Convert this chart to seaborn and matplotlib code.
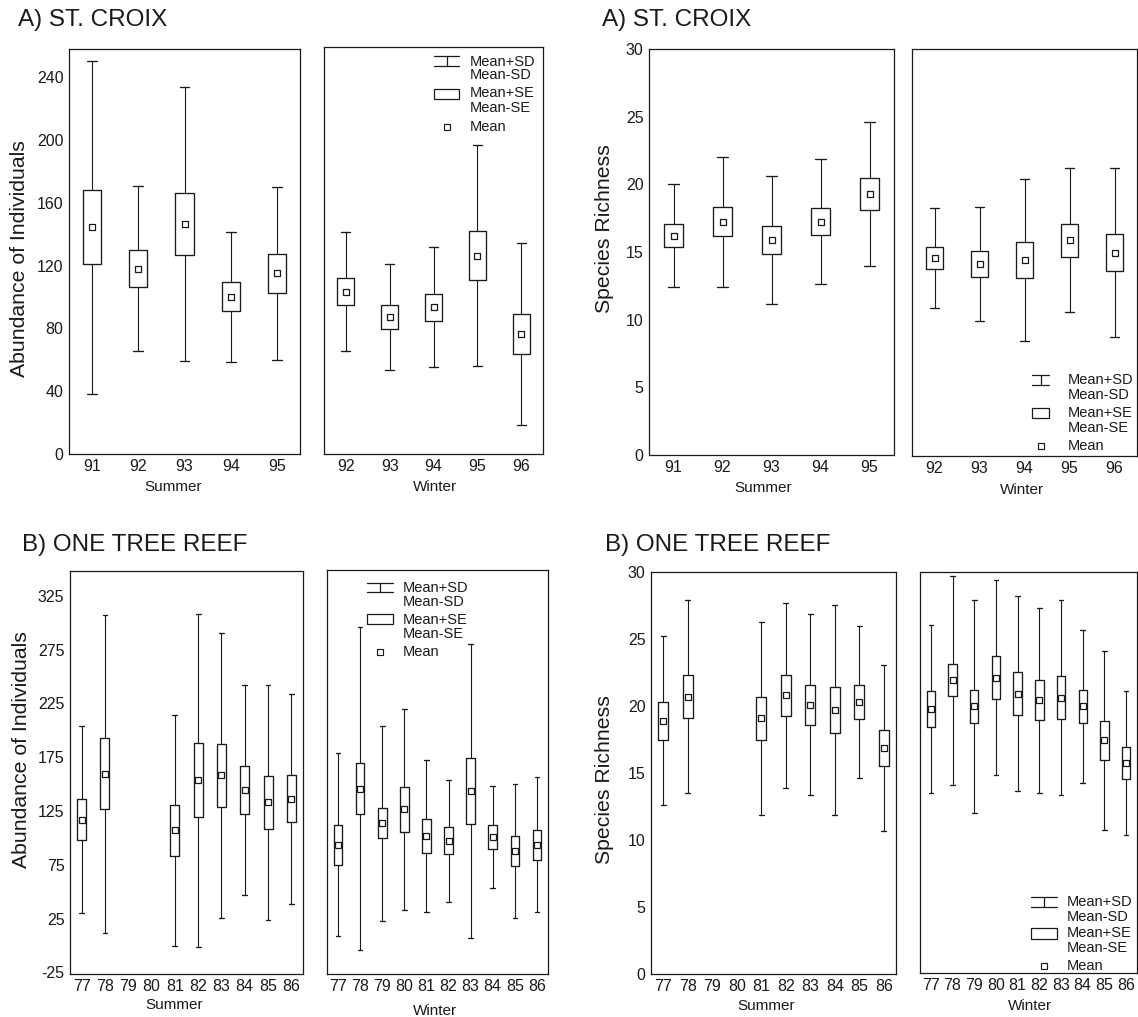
import numpy as np
import pandas as pd
import matplotlib
matplotlib.use("Agg")
import matplotlib.pyplot as plt
from matplotlib.lines import Line2D
from matplotlib.patches import Rectangle
import seaborn as sns

nan = np.nan

# ---- St. Croix ----
sc_summer_years = ["91", "92", "93", "94", "95"]
sc_winter_years = ["92", "93", "94", "95", "96"]

sc_summer_abund_mean = [144.5, 118.0, 146.5, 100.2, 115.0]
sc_summer_abund_se = [23.5, 11.7, 19.5, 9.2, 12.4]
sc_summer_abund_sd = [106.0, 52.7, 87.0, 41.5, 55.0]

sc_winter_abund_mean = [103.0, 86.7, 93.0, 125.7, 76.0]
sc_winter_abund_se = [8.5, 7.5, 8.5, 15.6, 12.7]
sc_winter_abund_sd = [38.0, 33.5, 38.0, 70.0, 57.5]

sc_summer_rich_mean = [16.2, 17.25, 15.9, 17.25, 19.3]
sc_summer_rich_se = [0.85, 1.05, 1.05, 1.0, 1.2]
sc_summer_rich_sd = [3.8, 4.8, 4.75, 4.65, 5.3]

sc_winter_rich_mean = [14.6, 14.15, 14.45, 15.9, 15.0]
sc_winter_rich_se = [0.8, 0.95, 1.35, 1.2, 1.4]
sc_winter_rich_sd = [3.7, 4.2, 5.95, 5.3, 6.2]

# ---- One Tree Reef ----
ot_years = ["77", "78", "79", "80", "81", "82", "83", "84", "85", "86"]

ot_summer_abund_mean = [117.0, 159.5, nan, nan, 107.0, 153.5, 158.0, 144.5, 133.0, 136.5]
ot_summer_abund_se = [19.0, 33.0, nan, nan, 23.5, 34.5, 29.5, 22.0, 24.3, 21.7]
ot_summer_abund_sd = [87.0, 148.0, nan, nan, 107.5, 155.0, 132.7, 98.0, 109.5, 97.5]

ot_winter_abund_mean = [93.3, 145.4, 113.4, 126.0, 101.8, 97.0, 143.0, 100.5, 87.5, 93.3]
ot_winter_abund_se = [18.7, 23.7, 14.0, 20.7, 15.8, 12.5, 30.5, 10.7, 13.6, 13.9]
ot_winter_abund_sd = [85.0, 149.5, 90.4, 93.3, 70.5, 56.7, 136.5, 47.0, 62.0, 62.4]

ot_summer_rich_mean = [18.9, 20.7, nan, nan, 19.1, 20.8, 20.1, 19.7, 20.3, 16.85]
ot_summer_rich_se = [1.4, 1.6, nan, nan, 1.6, 1.55, 1.5, 1.75, 1.27, 1.35]
ot_summer_rich_sd = [6.3, 7.2, nan, nan, 7.2, 6.9, 6.75, 7.85, 5.7, 6.2]

ot_winter_rich_mean = [19.75, 21.9, 19.95, 22.1, 20.9, 20.4, 20.6, 19.95, 17.4, 15.7]
ot_winter_rich_se = [1.37, 1.2, 1.25, 1.6, 1.6, 1.5, 1.6, 1.25, 1.45, 1.2]
ot_winter_rich_sd = [6.25, 7.8, 7.95, 7.3, 7.3, 6.9, 7.3, 5.7, 6.7, 5.4]

abund_sc_ticks = [0, 40, 80, 120, 160, 200, 240]
abund_ot_ticks = [-25, 25, 75, 125, 175, 225, 275, 325]
rich_ticks = [0, 5, 10, 15, 20, 25, 30]

sns.set_theme(style="white")
plt.rcParams["font.family"] = ["Liberation Sans", "DejaVu Sans"]
plt.rcParams["axes.unicode_minus"] = False

W, H = 1138, 1017
fig = plt.figure(figsize=(W / 100, H / 100), dpi=100)
INK = "#1a1a1a"


def fx(x):
    return x / W


def fy(y):
    return 1 - y / H


def px_axes(l, t, r, b):
    return fig.add_axes([fx(l), fy(b), (r - l) / W, (b - t) / H])


def draw_panel(ax, years, mean, se, sd, ylim, yticks, show_y, tick_size=11.5):
    df = pd.DataFrame({"year": years, "mean": mean, "se": se, "sd": sd})
    df["pos"] = np.arange(len(df))
    valid = df.dropna()
    stats = [
        dict(med=r.mean, q1=r.mean - r.se, q3=r.mean + r.se,
             whislo=r.mean - r.sd, whishi=r.mean + r.sd, fliers=[])
        for r in valid.itertuples()
    ]
    ax.bxp(stats, positions=valid["pos"].to_numpy(), widths=0.39,
           capwidths=0.21, showfliers=False, manage_ticks=False,
           boxprops=dict(color=INK, linewidth=0.95),
           whiskerprops=dict(color=INK, linewidth=0.8),
           capprops=dict(color=INK, linewidth=0.95),
           medianprops=dict(linewidth=0))
    sns.scatterplot(data=valid, x="pos", y="mean", marker="s", s=15,
                    facecolor="white", edgecolor=INK, linewidth=0.9,
                    ax=ax, zorder=4, legend=False)
    ax.set_xlim(-0.5, len(df) - 0.5)
    ax.set_ylim(*ylim)
    ax.set_xticks(df["pos"])
    ax.set_xticklabels(df["year"])
    ax.set_yticks(yticks)
    ax.set_xlabel("")
    ax.set_ylabel("")
    ax.tick_params(axis="both", length=0, labelsize=tick_size, colors=INK)
    ax.tick_params(axis="x", pad=3.5)
    ax.tick_params(axis="y", pad=4)
    if not show_y:
        ax.set_yticklabels([])
    for s in ax.spines.values():
        s.set_visible(True)
        s.set_color(INK)
        s.set_linewidth(0.9)


def draw_key(x0, x1, bar_top, bar_bot, rect_top, rect_bot, mean_y, text_x,
             sd_y, se_y, fs=10.5):
    xc = (x0 + x1) / 2
    kw = dict(transform=fig.transFigure, color=INK, linewidth=0.9)
    fig.add_artist(Line2D([fx(x0), fx(x1)], [fy(bar_top)] * 2, **kw))
    fig.add_artist(Line2D([fx(x0), fx(x1)], [fy(bar_bot)] * 2, **kw))
    fig.add_artist(Line2D([fx(xc)] * 2, [fy(bar_top), fy(bar_bot)], **kw))
    fig.add_artist(Rectangle((fx(x0), fy(rect_bot)), (x1 - x0) / W,
                             (rect_bot - rect_top) / H, transform=fig.transFigure,
                             facecolor="white", edgecolor=INK, linewidth=0.9))
    fig.add_artist(Line2D([fx(xc)], [fy(mean_y)], transform=fig.transFigure,
                          marker="s", markersize=4, markerfacecolor="white",
                          markeredgecolor=INK, markeredgewidth=0.85, linestyle="none"))
    tk = dict(fontsize=fs, ha="left", va="center", color=INK)
    fig.text(fx(text_x), fy(sd_y[0]), "Mean+SD", **tk)
    fig.text(fx(text_x), fy(sd_y[1]), "Mean-SD", **tk)
    fig.text(fx(text_x), fy(se_y[0]), "Mean+SE", **tk)
    fig.text(fx(text_x), fy(se_y[1]), "Mean-SE", **tk)
    fig.text(fx(text_x), fy(mean_y), "Mean", **tk)


def label(x, y, s, size, rot=0, ha="center"):
    fig.text(fx(x), fy(y), s, fontsize=size, rotation=rot, ha=ha,
             va="center", color=INK)


# ---- A) St. Croix : abundance ----
ax1 = px_axes(69, 49, 300, 454)
draw_panel(ax1, sc_summer_years, sc_summer_abund_mean, sc_summer_abund_se,
           sc_summer_abund_sd, (0, 258), abund_sc_ticks, True)
ax2 = px_axes(324, 47, 543, 454)
draw_panel(ax2, sc_winter_years, sc_winter_abund_mean, sc_winter_abund_se,
           sc_winter_abund_sd, (0, 258), abund_sc_ticks, False)

# ---- A) St. Croix : species richness ----
ax3 = px_axes(649, 49, 894, 455)
draw_panel(ax3, sc_summer_years, sc_summer_rich_mean, sc_summer_rich_se,
           sc_summer_rich_sd, (0, 30), rich_ticks, True)
ax4 = px_axes(912, 49, 1137, 456)
draw_panel(ax4, sc_winter_years, sc_winter_rich_mean, sc_winter_rich_se,
           sc_winter_rich_sd, (0, 30), rich_ticks, False)

# ---- B) One Tree Reef : abundance ----
ax5 = px_axes(70, 571, 303, 974)
draw_panel(ax5, ot_years, ot_summer_abund_mean, ot_summer_abund_se,
           ot_summer_abund_sd, (-26.5, 348), abund_ot_ticks, True)
ax6 = px_axes(327, 570, 548, 974)
draw_panel(ax6, ot_years, ot_winter_abund_mean, ot_winter_abund_se,
           ot_winter_abund_sd, (-26.5, 348), abund_ot_ticks, False)

# ---- B) One Tree Reef : species richness ----
ax7 = px_axes(651, 572, 896, 974)
draw_panel(ax7, ot_years, ot_summer_rich_mean, ot_summer_rich_se,
           ot_summer_rich_sd, (0, 30), rich_ticks, True)
ax8 = px_axes(920, 572, 1137, 973)
draw_panel(ax8, ot_years, ot_winter_rich_mean, ot_winter_rich_se,
           ot_winter_rich_sd, (0, 30), rich_ticks, False)

# Panel headings
label(18, 20, "A) ST. CROIX", 17.5, ha="left")
label(602, 20, "A) ST. CROIX", 17.5, ha="left")
label(22, 545, "B) ONE TREE REEF", 17.5, ha="left")
label(605, 545, "B) ONE TREE REEF", 17.5, ha="left")

# Axis titles
label(20, 259, "Abundance of Individuals", 15.3, rot=90)
label(605, 229, "Species Richness", 15.3, rot=90)
label(22, 750, "Abundance of Individuals", 15.3, rot=90)
label(605, 780, "Species Richness", 15.3, rot=90)

label(173, 487, "Summer", 11)
label(435, 487, "Winter", 11)
label(763, 488, "Summer", 11)
label(1022, 490, "Winter", 11)
label(174, 1005, "Summer", 11)
label(435, 1011, "Winter", 11)
label(766, 1006, "Summer", 11)
label(1030, 1006, "Winter", 11)

# Keys
draw_key(434, 459, 55.7, 66, 89, 99.3, 126.7, 470, (61.7, 75), (93.3, 108.3))
draw_key(1032, 1049, 375, 385.3, 407.7, 418.3, 445.7, 1068, (380, 395), (413.3, 427.7))
draw_key(367, 393, 582.7, 592, 614.3, 624.3, 652.3, 403, (587.7, 601.7), (620, 634))
draw_key(1031, 1057, 896.7, 907.3, 928.3, 939, 966, 1067, (901.7, 916.7), (933.3, 948.3))

fig.savefig("out.png", dpi=100, facecolor="white")
